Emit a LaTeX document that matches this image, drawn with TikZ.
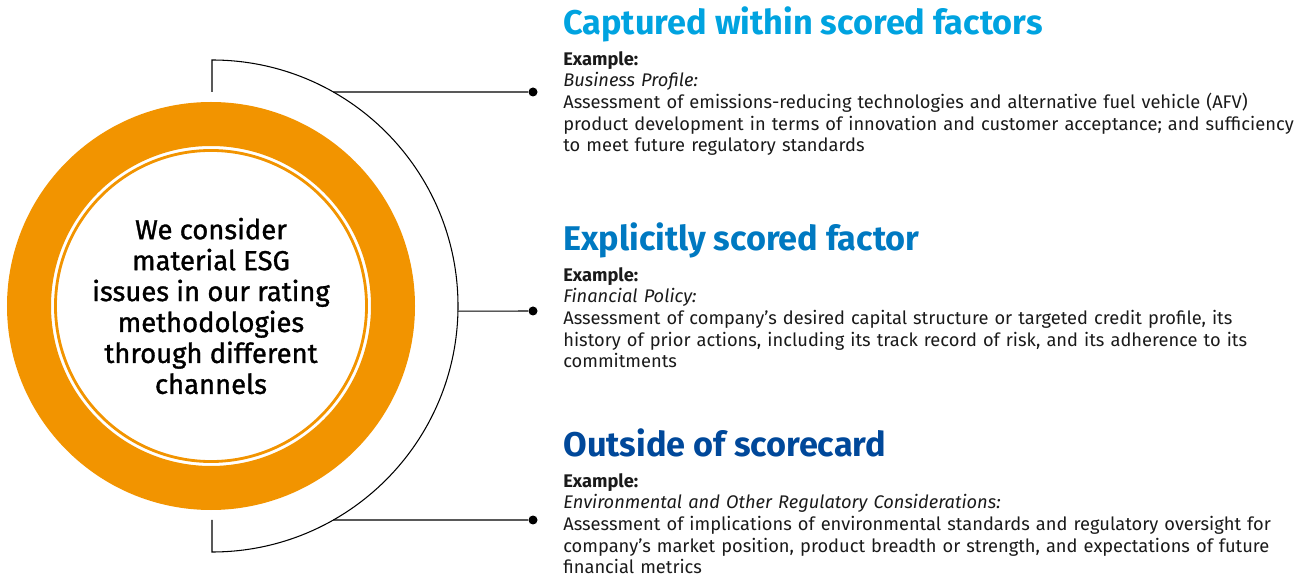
\documentclass[tikz,border=0pt]{standalone}
\usepackage{fontspec}
\setmainfont{Fira Sans}
\newfontfamily\corefont{Fira Sans}[FakeBold=1.2]
\usetikzlibrary{positioning}

\definecolor{esgorange}{HTML}{F29400}
\definecolor{blueA}{HTML}{00A3E0}
\definecolor{blueB}{HTML}{0079C1}
\definecolor{blueC}{HTML}{00489A}
\definecolor{inktext}{HTML}{1A1A1A}

\tikzset{
  heading/.style={font=\fontsize{19.5}{22}\selectfont\bfseries, anchor=base west, inner sep=0pt},
  bodytext/.style={font=\fontsize{10.4}{12.3}\selectfont, text=inktext, text width=15cm,
    align=left, anchor=north west, inner sep=0pt},
  enddot/.style={circle, fill=black, inner sep=0pt, minimum size=0.18cm},
  link/.style={line width=0.6pt},
}

\begin{document}
\begin{tikzpicture}
  \useasboundingbox (0,0) rectangle (26,11.6);
  % \draw[help lines] (0,0) grid (26,11.6);

  \coordinate (ctr) at (4.24,5.48);

  % outer orange band and inner ring with the statement
  \draw [esgorange, line width=0.88cm] (4.22,5.48) circle [radius=3.64];
  \node [circle, draw=esgorange, line width=1.6pt, fill=white, minimum size=5.92cm,
    align=center, text=black, font=\corefont\fontsize{15.6}{17.6}\selectfont] (core) at (4.22,5.48)
    {We consider\\material ESG\\issues in our rating\\methodologies\\through different\\channels};

  % bracket arc round the circle
  \draw [link] (4.24,9.76) -- (4.24,10.40)
    arc [start angle=90, end angle=-90, radius=4.92]
    -- (4.24,1.20);

  \coordinate (arcA) at ([shift={(60.45:4.92)}]ctr);
  \coordinate (arcB) at ([shift={(-1.2:4.92)}]ctr);
  \coordinate (arcC) at ([shift={(-60.45:4.92)}]ctr);

  \node [enddot] (dotA) at (10.66,9.76) {};
  \node [enddot] (dotB) at (10.66,5.38) {};
  \node [enddot] (dotC) at (10.66,1.20) {};

  \draw [link] (arcA) -- (dotA);
  \draw [link] (arcB) -- (dotB);
  \draw [link] (arcC) -- (dotC);

  % the three channels
  \node [heading, text=blueA] (captured) at (11.26,10.90) {Captured within scored factors};
  \node [bodytext] (capturedtxt) at ([yshift=-0.32cm]captured.base west)
    {\textbf{Example:}\\
     \textit{Business Profile:}\\
     Assessment of emissions-reducing technologies and alternative fuel vehicle (AFV)\\
     product development in terms of innovation and customer acceptance; and sufficiency\\
     to meet future regulatory standards};

  \node [heading, text=blueB] (explicit) at (11.26,6.58) {Explicitly scored factor};
  \node [bodytext] (explicittxt) at ([yshift=-0.32cm]explicit.base west)
    {\textbf{Example:}\\
     \textit{Financial Policy:}\\
     Assessment of company’s desired capital structure or targeted credit profile, its\\
     history of prior actions, including its track record of risk, and its adherence to its\\
     commitments};

  \node [heading, text=blueC] (outside) at (11.26,2.46) {Outside of scorecard};
  \node [bodytext] (outsidetxt) at ([yshift=-0.32cm]outside.base west)
    {\textbf{Example:}\\
     \textit{Environmental and Other Regulatory Considerations:}\\
     Assessment of implications of environmental standards and regulatory oversight for\\
     company’s market position, product breadth or strength, and expectations of future\\
     financial metrics};

\end{tikzpicture}
\end{document}
